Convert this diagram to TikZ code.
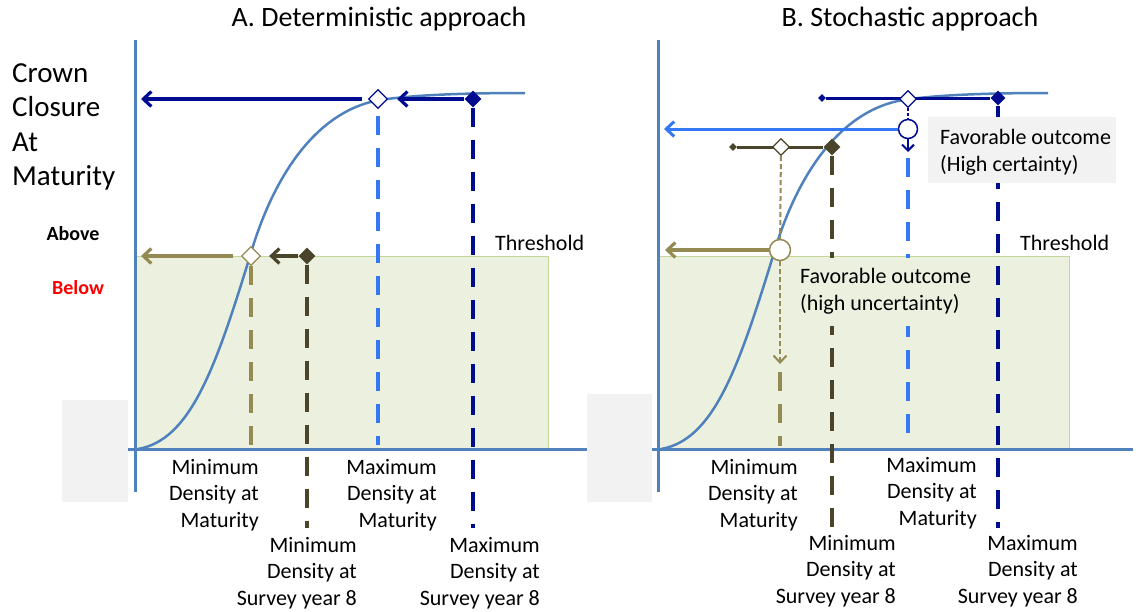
\documentclass[tikz,border=0pt]{standalone}
\usepackage{fontspec}
\setmainfont{Carlito}
\usetikzlibrary{shapes.geometric,arrows.meta}
\definecolor{axisblue}{HTML}{4F81BD}
\definecolor{navyc}{HTML}{000C8F}
\definecolor{lblue}{HTML}{3478F6}
\definecolor{khaki}{HTML}{948A54}
\definecolor{oliv}{HTML}{4A452A}
\definecolor{greenfill}{HTML}{EBF1DE}
\definecolor{greenline}{HTML}{C3D69B}
\definecolor{boxgray}{HTML}{F2F2F2}
\definecolor{redc}{HTML}{FF0000}
\begin{document}
\begin{tikzpicture}[x=1pt,y=-1pt,
  lbl/.style={font=\fontsize{22pt}{26.5pt}\selectfont, align=right, inner sep=0pt, anchor=north east},
  txt/.style={font=\fontsize{22pt}{26.5pt}\selectfont, inner sep=0pt},
  axisline/.style={axisblue, line width=3pt},
  thickdash/.style={line width=4pt, dash pattern=on 19pt off 13pt},
  wdia/.style={diamond, draw=#1, fill=white, line width=1.2pt, minimum size=19pt, inner sep=0pt},
  fdia/.style={diamond, fill=#1, minimum size=17pt, inner sep=0pt},
  sdia/.style={diamond, fill=#1, minimum size=8pt, inner sep=0pt},
  wcirc/.style={circle, draw=#1, fill=white, line width=1.5pt, minimum size=19pt, inner sep=0pt},
  barb/.style={-{Straight Barb[length=8pt,width=15pt]}},
  curvestyle/.style={axisblue, line width=2.5pt},
]
\useasboundingbox (0,0) rectangle (1139,611);
% background regions
\filldraw[fill=greenfill, draw=greenline, line width=1pt] (135,256) rectangle (548,449);
\filldraw[fill=greenfill, draw=greenline, line width=1pt] (658,256) rectangle (1069,449);
\fill[boxgray] (62,400) rectangle (128,502);
% axes A
\draw[axisline] (135,40) -- (135,492);
\draw[axisline] (128,449) -- (590,449);
\fill[boxgray] (587,394) rectangle (652,502);
% axes B
\draw[axisline] (658,40) -- (658,492);
\draw[axisline] (652,449) -- (1133,449);
% curves
\draw[curvestyle] (138,449) .. controls (190,440) and (215,370) .. (250,256)
  .. controls (275,170) and (320,110) .. (380,100) .. controls (420,94) and (480,93) .. (525,93);
\begin{scope}[xshift=523pt]
\draw[curvestyle] (138,449) .. controls (190,440) and (215,370) .. (250,256)
  .. controls (275,170) and (320,110) .. (380,100) .. controls (420,94) and (480,93) .. (525,93);
\end{scope}
% titles and axis texts
\node[font=\fontsize{28pt}{33pt}\selectfont, inner sep=0pt] (titA) at (379,19) {A. Deterministic approach};
\node[font=\fontsize{28pt}{33pt}\selectfont, inner sep=0pt] (titB) at (910,19) {B. Stochastic approach};
\node[font=\fontsize{29pt}{34.5pt}\selectfont, align=left, inner sep=0pt, anchor=north west] (crown) at (12,63) {Crown\\Closure\\At\\Maturity};
\node[font=\fontsize{20pt}{24pt}\selectfont\bfseries, inner sep=0pt] (above) at (73,234) {Above};
\node[font=\fontsize{20pt}{24pt}\selectfont\bfseries, text=redc, inner sep=0pt] (below) at (78,288) {Below};
\node[txt, anchor=west] (thrA) at (495,243) {Threshold};
\node[txt, anchor=west] (thrB) at (1020,243) {Threshold};
% ---------- Panel A ----------
\node[wdia=navyc] (wdA) at (378,99) {};
\node[fdia=navyc] (fdA) at (473,99) {};
\node[wdia=khaki] (wkA) at (251,256) {};
\node[fdia=oliv] (foA) at (307,256) {};
\coordinate (yA1) at (141,99);
\coordinate (yA2) at (141,256);
\coordinate (kAb) at (251,447);
\coordinate (oAb) at (307,528);
\coordinate (lAt) at (378,116);
\coordinate (lAb) at (378,445);
\coordinate (nAb) at (473,528);
\draw[khaki, thickdash] (wkA.south) -- (kAb);
\draw[oliv, thickdash] (foA.south) -- (oAb);
\draw[lblue, thickdash] (lAt) -- (lAb);
\draw[navyc, thickdash] (fdA.south) -- (nAb);
\draw[navyc, line width=3.2pt, barb, shorten <=6pt] (wdA.west) -- (yA1);
\draw[navyc, line width=3.2pt, barb, shorten >=9pt] (fdA.west) -- (wdA.east);
\draw[khaki, line width=3.2pt, barb, shorten <=8pt] (wkA.west) -- (yA2);
\draw[oliv, line width=3.2pt, barb, shorten >=8pt] (foA.west) -- (wkA.east);
% labels A
\node[lbl] (la1) at (259,459) {Minimum\\Density at\\Maturity};
\node[lbl] (la2) at (357,537) {Minimum\\Density at\\Survey year 8};
\node[lbl] (la3) at (437,459) {Maximum\\Density at\\Maturity};
\node[lbl] (la4) at (540,537) {Maximum\\Density at\\Survey year 8};
% ---------- Panel B ----------
\node[sdia=navyc] (snB) at (822,98) {};
\node[fdia=navyc, minimum size=15pt] (fnB) at (998,98) {};
\draw[navyc, line width=3pt] (snB) -- (fnB);
\node[wdia=navyc, minimum size=17pt] (wdB) at (908,99) {};
\node[wcirc=navyc] (cnB) at (908,129) {};
\coordinate (tipnB) at (908,152);
\coordinate (ynB) at (664,129);
\coordinate (lbBt) at (908,158);
\coordinate (lbBb) at (908,445);
\coordinate (nBb) at (998,528);
\draw[lblue, thickdash] (lbBt) -- (lbBb);
\draw[navyc, thickdash] (fnB) -- (nBb);
\draw[navyc, line width=2pt, dash pattern=on 3pt off 2pt] (wdB) -- (cnB);
\draw[navyc, line width=2pt, -{Straight Barb[length=6pt,width=12pt]}] (cnB) -- (tipnB);
\draw[lblue, line width=3pt, barb] (cnB) -- (ynB);
\node[sdia=oliv] (soB) at (733,147) {};
\node[fdia=oliv] (foB) at (832,147) {};
\draw[oliv, line width=3pt] (soB) -- (foB);
\node[wdia=oliv, minimum size=17pt] (wkB) at (781,147) {};
\node[wcirc=khaki, minimum size=21pt] (ckB) at (780,250) {};
\coordinate (tipkB) at (780,364);
\coordinate (kBt) at (780,372);
\coordinate (kBb) at (780,446);
\coordinate (ykB) at (665,250);
\coordinate (oBb) at (832,528);
\draw[oliv, thickdash] (foB) -- (oBb);
\draw[khaki, line width=2pt, dash pattern=on 5pt off 3pt] (wkB) -- (ckB);
\draw[khaki, line width=2pt, dash pattern=on 5pt off 3pt, -{Straight Barb[length=7pt,width=13pt]}] (ckB) -- (tipkB);
\draw[khaki, thickdash] (kBt) -- (kBb);
\draw[khaki, line width=3.2pt, barb] (ckB) -- (ykB);
% text boxes B
\fill[boxgray] (928,117) rectangle (1116,183);
\node[txt, anchor=west, align=left] (favHi) at (940,152) {Favorable outcome\\(High certainty)};
\fill[greenfill] (795,258) rectangle (978,326);
\node[txt, anchor=west, align=left] (favLo) at (800,291) {Favorable outcome\\(high uncertainty)};
% labels B
\node[lbl] (lb1) at (798,459) {Minimum\\Density at\\Maturity};
\node[lbl] (lb2) at (896,535) {Minimum\\Density at\\Survey year 8};
\node[lbl] (lb3) at (977,457) {Maximum\\Density at\\Maturity};
\node[lbl] (lb4) at (1078,535) {Maximum\\Density at\\Survey year 8};
\end{tikzpicture}
\end{document}
